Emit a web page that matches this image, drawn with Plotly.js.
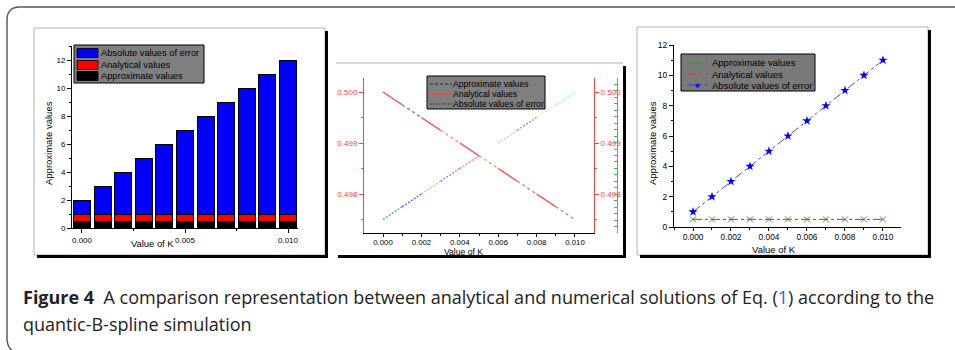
<!DOCTYPE html>
<html><head><meta charset="utf-8">
<script src="https://cdn.plot.ly/plotly-3.0.1.min.js"></script>
<style>html,body{margin:0;padding:0;background:#fff;} #chart{width:955px;height:350px;}</style>
</head><body><div id="chart"></div>
<script>
// ---------- data ----------
const K = [0, 0.001, 0.002, 0.003, 0.004, 0.005, 0.006, 0.007, 0.008, 0.009, 0.010];

// panel 1 (stacked bars)
const p1Approx     = [0.5, 0.5, 0.5, 0.5, 0.5, 0.5, 0.5, 0.5, 0.5, 0.5, 0.5];
const p1Analytical = [0.5, 0.5, 0.5, 0.5, 0.5, 0.5, 0.5, 0.5, 0.5, 0.5, 0.5];
const p1Error      = [1, 2, 3, 4, 5, 6, 7, 8, 9, 10, 11];

// panel 2 (segment lines)
const p2Analytical = [0.5, 0.49975, 0.4995, 0.49925, 0.499, 0.49875, 0.4985, 0.49825, 0.498, 0.49775, 0.4975];
const p2Approx     = [0.5, 0.49975, 0.4995, 0.49925, 0.499, 0.49875, 0.4985, 0.49825, 0.498, 0.49775, 0.4975];
const p2Error      = [0.4975, 0.49775, 0.498, 0.49825, 0.4985, 0.49875, 0.499, 0.49925, 0.4995, 0.49975, 0.5];
// segment colours (null = segment not drawn)
const p2AnalyticalSegColor = ['#ff4040', null, '#ff4040', null, '#ff4040', null, '#ff4040', null, '#ff4040', null];
const p2ApproxSegColor     = [null, '#6b6bff', null, '#ff78ff', null, '#b5b565', null, '#c070d0', null, '#66b866'];
const p2ErrorSegColor      = ['#3fa3a3', '#5a5ae6', '#ffb05a', '#a070ff', '#ff66d6', null, '#c8c8c8', '#999999', '#f5f57a', '#88ffff'];

// panel 3 (lines + markers)
const p3Approx     = [0.5, 0.5, 0.5, 0.5, 0.5, 0.5, 0.5, 0.5, 0.5, 0.5, 0.5];
const p3Analytical = [0.5, 0.5, 0.5, 0.5, 0.5, 0.5, 0.5, 0.5, 0.5, 0.5, 0.5];
const p3Error      = [1, 2, 3, 4, 5, 6, 7, 8, 9, 10, 11];

const seriesNames = ['Approximate values', 'Analytical values', 'Absolute values of error'];
const xTitle = 'Value of K';
const yTitle = 'Approximate values';

// ---------- helpers ----------
const W = 955, H = 350;
const px = x => x / W;
const py = y => 1 - y / H;
const domX = (a, b) => [px(a), px(b)];
const domY = (top, bottom) => [py(bottom), py(top)];
const F = 'Liberation Sans, Arial, sans-serif';

// ---------- traces ----------
const traces = [];
traces.push({type:'bar', x:K, y:p1Approx, name:seriesNames[0], width:0.00082,
  marker:{color:'#000000', line:{color:'#000', width:1}}, xaxis:'x', yaxis:'y', hoverinfo:'skip'});
traces.push({type:'bar', x:K, y:p1Analytical, name:seriesNames[1], width:0.00082,
  marker:{color:'#ff0000', line:{color:'#000', width:1}}, xaxis:'x', yaxis:'y', hoverinfo:'skip'});
traces.push({type:'bar', x:K, y:p1Error, name:seriesNames[2], width:0.00082,
  marker:{color:'#0000ff', line:{color:'#000', width:1}}, xaxis:'x', yaxis:'y', hoverinfo:'skip'});

for (let i = 0; i < K.length - 1; i++) {
  const xs = K.slice(i, i + 2);
  if (p2AnalyticalSegColor[i]) traces.push({type:'scatter', mode:'lines', x:xs, y:p2Analytical.slice(i, i + 2),
    line:{color:p2AnalyticalSegColor[i], width:1.3}, xaxis:'x2', yaxis:'y2', hoverinfo:'skip'});
  if (p2ApproxSegColor[i]) traces.push({type:'scatter', mode:'lines', x:xs, y:p2Approx.slice(i, i + 2),
    line:{color:p2ApproxSegColor[i], width:1.3, dash:'3px,3px'}, xaxis:'x2', yaxis:'y2', hoverinfo:'skip'});
  if (p2ErrorSegColor[i]) traces.push({type:'scatter', mode:'lines', x:xs, y:p2Error.slice(i, i + 2),
    line:{color:p2ErrorSegColor[i], width:1.3, dash:'2px,1.5px'}, xaxis:'x2', yaxis:'y2', hoverinfo:'skip'});
}
traces.push({type:'scatter', mode:'lines', x:[], y:[], xaxis:'x2', yaxis:'y3', hoverinfo:'skip'});
traces.push({type:'scatter', mode:'lines', x:[], y:[], xaxis:'x2', yaxis:'y4', hoverinfo:'skip'});

traces.push({type:'scatter', mode:'lines+markers', x:K, y:p3Approx, name:seriesNames[0],
  line:{color:'#3a9a3a', width:1, dash:'dashdot'},
  marker:{symbol:'x-thin-open', size:6, color:'#3a9a3a', line:{color:'#3a9a3a', width:1}},
  xaxis:'x3', yaxis:'y5', hoverinfo:'skip'});
traces.push({type:'scatter', mode:'lines', x:K, y:p3Analytical, name:seriesNames[1],
  line:{color:'#ff3030', width:1, dash:'dashdot'}, xaxis:'x3', yaxis:'y5', hoverinfo:'skip'});
traces.push({type:'scatter', mode:'lines+markers', x:K, y:p3Error, name:seriesNames[2],
  line:{color:'#4545ff', width:1, dash:'dashdot'},
  marker:{symbol:'star', size:7, color:'#0000ff'}, xaxis:'x3', yaxis:'y5', hoverinfo:'skip'});

// ---------- axes ----------
function ax(extra, fontSize, col) {
  col = col || '#000';
  return Object.assign({
    showgrid:false, zeroline:false, showline:true, linecolor:col, linewidth:1,
    ticks:'outside', ticklen:4, tickwidth:1, tickcolor:col,
    tickfont:{family:F, size:fontSize, color:col}, fixedrange:true
  }, extra);
}
const minor = (dt, col) => ({dtick:dt, ticks:'outside', ticklen:2, tickwidth:1, tickcolor:col || '#000', showgrid:false});

const layout = {
  width:W, height:H, margin:{l:0, r:0, t:0, b:0},
  paper_bgcolor:'#ffffff', plot_bgcolor:'rgba(0,0,0,0)',
  showlegend:false, barmode:'stack', bargap:0,
  xaxis: ax({domain:domX(72,298), range:[-0.000485,0.010485], anchor:'y', tick0:0, dtick:0.005, tickformat:'.3f', minor:minor(0.0025)}, 8),
  yaxis: ax({domain:domY(46,228), range:[0,13], anchor:'x', tick0:0, dtick:2, minor:minor(1)}, 8),
  xaxis2: ax({domain:domX(364,594), range:[-0.00099,0.01099], anchor:'y2', tick0:0, dtick:0.002, tickformat:'.3f', ticklen:3, ticklabelstandoff:-1, minor:minor(0.001)}, 7.8),
  yaxis2: ax({domain:domY(78,233), range:[0.497235,0.500275], anchor:'x2', tick0:0.497, dtick:0.001, tickformat:'.3f', minor:minor(0.0005,'#ff5050')}, 8, '#ff4040'),
  yaxis3: ax({overlaying:'y2', side:'right', anchor:'x2', range:[0.497235,0.500275], tick0:0.497, dtick:0.001, tickformat:'.3f', minor:minor(0.0005,'#ff5050')}, 8, '#ff4040'),
  yaxis4: ax({overlaying:'y2', side:'right', anchor:'free', position:px(617), range:[0,24], tick0:0, dtick:1, ticks:'inside', ticklen:3, showticklabels:false}, 7, '#55b055'),
  xaxis3: ax({domain:domX(674,901), range:[-0.001,0.01095], anchor:'y5', tick0:0, dtick:0.002, tickformat:'.3f', ticklen:3, ticklabelstandoff:-1, minor:minor(0.001)}, 8.3),
  yaxis5: ax({domain:domY(45,227), range:[0,12], anchor:'x3', tick0:0, dtick:2, minor:minor(1)}, 8.5),
  shapes:[], annotations:[]
};

const S = layout.shapes, A = layout.annotations;
function rect(x0, y0, x1, y1, fill, lineCol, lw, layer) {
  S.push({type:'rect', xref:'paper', yref:'paper', x0:px(x0), x1:px(x1), y0:py(y1), y1:py(y0),
    fillcolor:fill, line:{color:lineCol || 'rgba(0,0,0,0)', width:lw || 0}, layer:layer || 'above'});
}
function seg(x0, y0, x1, y1, col, lw, dash, layer) {
  S.push({type:'line', xref:'paper', yref:'paper', x0:px(x0), x1:px(x1), y0:py(y0), y1:py(y1),
    line:{color:col, width:lw, dash:dash || 'solid'}, layer:layer || 'above'});
}
function text(x, y, t, size, opts) {
  A.push(Object.assign({xref:'paper', yref:'paper', x:px(x), y:py(y), text:t, showarrow:false,
    xanchor:'center', yanchor:'middle', borderpad:0, borderwidth:0,
    font:{family:F, size:size, color:'#000'}}, opts || {}));
}

// outer rounded frame
S.push({type:'path', xref:'paper', yref:'paper', layer:'below',
  path:`M ${px(22)},${py(353)} Q ${px(7)},${py(353)} ${px(7)},${py(338)} L ${px(7)},${py(20)} Q ${px(7)},${py(7)} ${px(20)},${py(7)} L ${px(970)},${py(7)}`,
  line:{color:'#555555', width:1.4}});

// panel backgrounds + shadows
rect(34, 28, 325, 255, '#ffffff', '#b0b0b0', 1, 'below');
rect(325, 31, 328, 258, '#000', null, 0, 'below');
rect(37, 255, 328, 258, '#000', null, 0, 'below');

rect(335, 63, 623, 255, '#ffffff', null, 0, 'below');
seg(336, 63, 623, 63, '#b0b0b0', 1, 'solid', 'below');
rect(623, 66, 626, 258, '#000', null, 0, 'below');
rect(338, 255, 626, 258, '#000', null, 0, 'below');

rect(637, 27, 928, 255, '#ffffff', '#b0b0b0', 1, 'below');
rect(928, 30, 931, 258, '#000', null, 0, 'below');
rect(640, 255, 931, 258, '#000', null, 0, 'below');

// axis titles
text(48, 143, yTitle, 9.5, {textangle:-90});
text(152, 243, xTitle, 9.4);
text(463, 252, xTitle, 8.6);
text(652, 143, yTitle, 9.5, {textangle:-90});
text(774, 249, xTitle, 9.5);

// legend panel 1
rect(74, 45, 204, 83, '#808080', '#000', 1);
const l1Col = ['#0000ff', '#ff0000', '#000000'];
const l1Y = [53, 65, 76];
[2, 1, 0].forEach((s, j) => {
  rect(77, l1Y[j] - 4.5, 98, l1Y[j] + 4.5, l1Col[j], '#000', 0.8);
  text(101, l1Y[j], seriesNames[s], 9.3, {xanchor:'left'});
});

// legend panel 2
rect(427, 76, 545, 109, '#7f7f7f', '#000', 1);
const l2Y = [84, 94, 104];
seg(430, l2Y[0], 452, l2Y[0], '#2a2a2a', 1, '3px,2px');
seg(430, l2Y[1], 452, l2Y[1], '#ff4040', 1.5);
seg(430, l2Y[2], 452, l2Y[2], '#2a2a2a', 1, '1.5px,1.5px');
[0, 1, 2].forEach(j => text(453, l2Y[j], seriesNames[j], 8.6, {xanchor:'left'}));

// legend panel 3
rect(681, 54, 815, 91, '#7a7a7a', '#000', 1);
const l3Y = [63, 74, 85];
seg(687, l3Y[0], 708, l3Y[0], '#3a9a3a', 1, 'dashdot');
seg(695, l3Y[0] - 2.5, 700, l3Y[0] + 2.5, '#3a9a3a', 1);
seg(695, l3Y[0] + 2.5, 700, l3Y[0] - 2.5, '#3a9a3a', 1);
seg(687, l3Y[1], 708, l3Y[1], '#ff3030', 1, 'dashdot');
seg(687, l3Y[2], 708, l3Y[2], '#3b3bff', 1, 'dashdot');
text(697.5, l3Y[2], '★', 8, {font:{family:'DejaVu Sans', size:8, color:'#0000ff'}});
[0, 1, 2].forEach(j => text(712, l3Y[j], seriesNames[j], 9.5, {xanchor:'left'}));

// caption
text(23, 297, '<b>Figure 4</b>\u00a0\u00a0A comparison representation between analytical and numerical solutions of Eq. (<span style="color:#2f63c6">1</span>) according to the', 18,
  {xanchor:'left', font:{family:'Open Sans', size:18, color:'#222'}});
text(23, 324, 'quantic-B-spline simulation', 18,
  {xanchor:'left', font:{family:'Open Sans', size:18, color:'#222'}});

Plotly.newPlot('chart', traces, layout, {staticPlot:true, displayModeBar:false});
</script>
</body></html>
